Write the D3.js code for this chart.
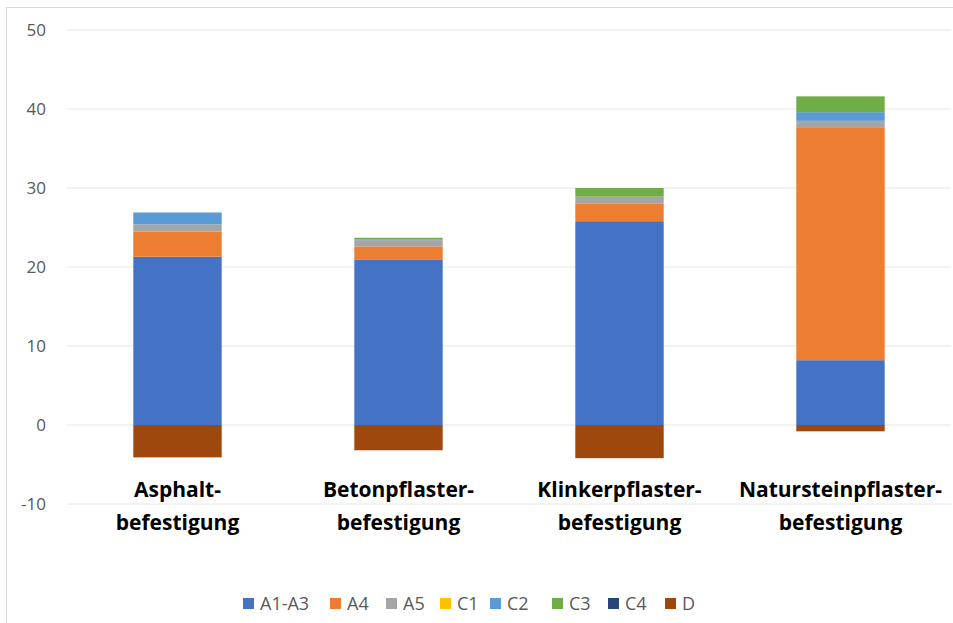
<!DOCTYPE html>
<html><head><meta charset="utf-8">
<script src="https://cdn.jsdelivr.net/npm/d3@7"></script>
<style>body{margin:0;background:#fff}svg{display:block}</style>
</head><body>
<svg id="c" width="953" height="623"></svg>
<script>
const categories = ["Asphalt-\nbefestigung","Betonpflaster-\nbefestigung","Klinkerpflaster-\nbefestigung","Natursteinpflaster-\nbefestigung"];
const seriesNames = ["A1-A3","A4","A5","C1","C2","C3","C4","D"];
const colors = ["#4472C4","#ED7D31","#A5A5A5","#FFC000","#5B9BD5","#70AD47","#264478","#9E480E"];
const A1A3 = [21.3, 20.9, 25.8, 8.2];
const A4   = [3.2, 1.7, 2.2, 29.4];
const A5   = [0.9, 0.8, 0.9, 0.9];
const C1   = [0, 0, 0, 0];
const C2   = [1.5, 0.1, 0, 1.1];
const C3   = [0, 0.2, 1.1, 2.0];
const C4   = [0, 0, 0, 0];
const D    = [-4.1, -3.2, -4.2, -0.8];
const yTicks = [-10,0,10,20,30,40,50];

const vals = [A1A3,A4,A5,C1,C2,C3,C4,D];
const rows = categories.map((c,i)=>{const o={cat:c}; seriesNames.forEach((s,j)=>o[s]=vals[j][i]); return o;});

const svg = d3.select("#c");
svg.append("rect").attr("x",6.5).attr("y",7.5).attr("width",960).attr("height",640)
  .attr("fill","#fff").attr("stroke","#d9d9d9");

const x = d3.scaleBand().domain(categories).range([67,951]).paddingInner(0.6).paddingOuter(0.3);
const y = d3.scaleLinear().domain([-10,50]).range([504,30]);

// grid
svg.append("g").selectAll("line").data(yTicks).join("line")
  .attr("x1",67).attr("x2",951).attr("y1",d=>y(d)).attr("y2",d=>y(d))
  .attr("stroke","#e6e6e6").attr("stroke-width",1);

const yAxis = svg.append("g").attr("transform","translate(58,0)")
  .call(d3.axisLeft(y).tickValues(yTicks).tickFormat(d=>String(d)).tickSize(0).tickPadding(12));
yAxis.select(".domain").remove();
yAxis.selectAll("text").attr("fill","#595959").style("font-family","'Open Sans',sans-serif").style("font-size","17px");

const stack = d3.stack().keys(seriesNames).offset(d3.stackOffsetDiverging);
const stacked = stack(rows);

svg.append("g").selectAll("g").data(stacked).join("g")
  .attr("fill",(d,i)=>colors[i])
  .selectAll("rect").data(d=>d).join("rect")
  .attr("x",d=>x(d.data.cat)).attr("width",x.bandwidth())
  .attr("y",d=>y(Math.max(d[0],d[1]))).attr("height",d=>Math.abs(y(d[0])-y(d[1])));

// category labels
const lab = svg.append("g").selectAll("text").data(categories).join("text")
  .attr("x",d=>x(d)+x.bandwidth()/2).attr("y",497)
  .attr("text-anchor","middle").attr("fill","#000")
  .style("font-family","'Open Sans',sans-serif").style("font-size","21px").style("font-weight","bold");
lab.selectAll("tspan").data(d=>d.split("\n")).join("tspan")
  .attr("x",function(){return this.parentNode.getAttribute("x");})
  .attr("dy",(d,i)=>i?33:0).text(d=>d);

// legend
const legX = [243,330,386,440,490,552,608,665];
const leg = svg.append("g").selectAll("g").data(seriesNames).join("g")
  .attr("transform",(d,i)=>`translate(${legX[i]},604)`);
leg.append("rect").attr("x",0).attr("y",-6).attr("width",11).attr("height",11).attr("fill",(d,i)=>colors[i]);
leg.append("text").attr("x",17).attr("y",0).attr("dy","0.35em").text(d=>d)
  .attr("fill","#595959").style("font-family","'Open Sans',sans-serif").style("font-size","18px");
</script>
</body></html>
